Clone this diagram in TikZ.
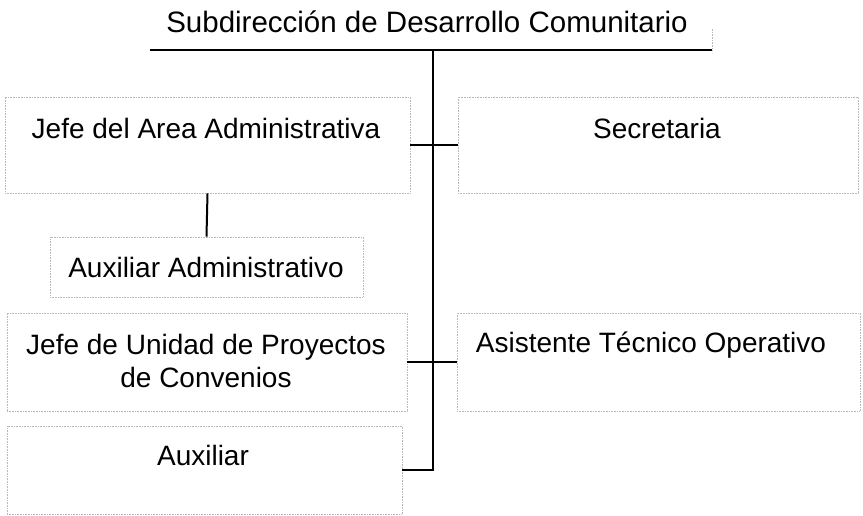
\documentclass[tikz,border=0pt]{standalone}
\usepackage{fontspec}
\setmainfont{Liberation Sans}
\usepackage{tikz}

\begin{document}
\begin{tikzpicture}[x=1pt,y=-1pt,
        caja/.style={draw=gray!55, densely dotted, line width=0.6pt, inner sep=0pt},
        texto/.style={font=\fontsize{28}{33}\selectfont, align=center, inner sep=0pt},
        linea/.style={line width=2pt, black}]
                \useasboundingbox (0,0) rectangle (863,516);
                % cajas
                \node[inner sep=0pt, minimum width=562pt, minimum height=46pt] (sub) at (431,27) {};
                \node[caja, minimum width=405pt, minimum height=96pt] (jefeArea) at (207.5,145) {};
                \node[caja, minimum width=400pt, minimum height=96pt] (secre) at (658,145) {};
                \node[caja, minimum width=313pt, minimum height=60pt] (auxAdm) at (206.5,267) {};
                \node[caja, minimum width=400pt, minimum height=98pt] (jefeUnidad) at (207,362) {};
                \node[caja, minimum width=403pt, minimum height=98pt] (asist) at (658.5,362) {};
                \node[caja, minimum width=395pt, minimum height=88pt] (auxil) at (204.5,470) {};
                % textos
                \node[texto, font=\fontsize{29.5}{33}\selectfont] (tSub) at (427,22) {Subdirección de Desarrollo Comunitario};
                \node[texto] (tJefeArea) at (206,128) {Jefe del Area Administrativa};
                \node[texto] (tSecre) at (657,128) {Secretaria};
                \node[texto] (tAuxAdm) at (206,267) {Auxiliar Administrativo};
                \node[texto] (tJefeUnidad) at (206,361) {Jefe de Unidad de Proyectos\\de Convenios};
                \node[texto] (tAsist) at (651,345) {Asistente Técnico Operativo};
                \node[texto] (tAuxil) at (203,455) {Auxiliar};
                % lineas
                \coordinate (eje) at (433,0);
                \draw[linea] (sub.south west) -- (sub.south east);
                \draw[caja] (sub.south east) -- ([yshift=22pt]sub.south east);
                \draw[linea] (eje |- sub.south) -- (eje |- auxil.east) -- (auxil.east);
                \draw[linea] (jefeArea.east) -- (secre.west);
                \draw[linea] (jefeUnidad.east) -- (asist.west);
                \draw[linea] (jefeArea.south) -- (auxAdm.north);
            \end{tikzpicture}
\end{document}
